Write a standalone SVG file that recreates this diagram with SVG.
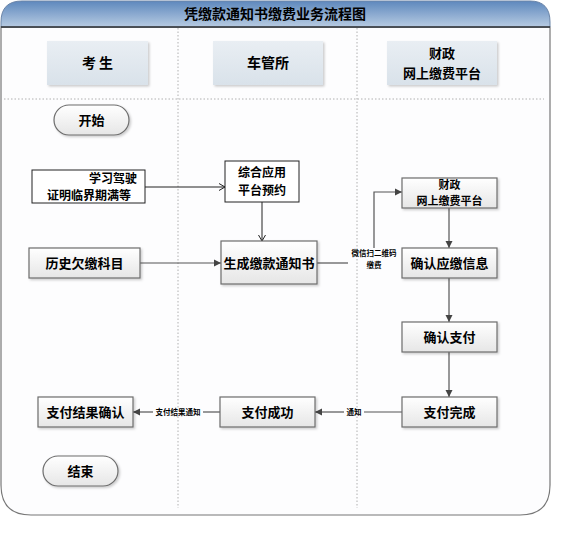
<svg xmlns="http://www.w3.org/2000/svg" width="577" height="534" viewBox="0 0 577 534">
<style>
.t{font-family:"Noto Sans CJK SC","Liberation Sans",sans-serif;font-weight:bold;fill:#000;text-anchor:middle}
.box{fill:url(#gBox);stroke:#6d6d6d;stroke-width:1.2}
.plain{fill:#fff;stroke:#222;stroke-width:1}
.lane{fill:url(#gLane)}
.pill{fill:url(#gBox);stroke:#6d6d6d;stroke-width:1.2}
.dot{stroke:#b0b0b0;stroke-width:1;stroke-dasharray:1.5 2;fill:none}
.c{stroke:#555;stroke-width:1.2;fill:none}
.cb{stroke:#222;stroke-width:1;fill:none}
.lbl{font-family:"Noto Sans CJK SC","Liberation Sans",sans-serif;font-weight:bold;font-size:7.5px;fill:#000;text-anchor:middle}
</style>
<defs>
<linearGradient id="gHead" x1="0" y1="0" x2="0" y2="1">
<stop offset="0" stop-color="#5e88bd"/>
<stop offset="1" stop-color="#b7cbe2"/>
</linearGradient>
<linearGradient id="gLane" x1="0" y1="0" x2="0" y2="1">
<stop offset="0" stop-color="#e9eef3"/>
<stop offset="1" stop-color="#d9e2ea"/>
</linearGradient>
<linearGradient id="gBox" x1="0" y1="0" x2="0" y2="1">
<stop offset="0" stop-color="#ffffff"/>
<stop offset="1" stop-color="#e6e6e6"/>
</linearGradient>
<filter id="sh" x="-10%" y="-10%" width="130%" height="140%">
<feDropShadow dx="1.5" dy="1.5" stdDeviation="1" flood-color="#000" flood-opacity="0.2"/>
</filter>
<marker id="af" markerWidth="8" markerHeight="8" refX="7" refY="4" orient="auto" markerUnits="userSpaceOnUse">
<path d="M0,0.5 L7,4 L0,7.5 Z" fill="#444"/>
</marker>
<marker id="ao" markerWidth="8" markerHeight="8" refX="7" refY="4" orient="auto" markerUnits="userSpaceOnUse">
<path d="M1,0.5 L7,4 L1,7.5" fill="none" stroke="#222" stroke-width="1"/>
</marker>
</defs>
<rect width="577" height="534" fill="#fff"/>
<g id="container">
<path d="M1,27 L1,485 Q1,515 31,515 L520,515 Q550,515 550,485 L550,27 Z" fill="#fdfdfe" stroke="#777" stroke-width="1.2"/>
<path d="M1,27 L1,22 Q1,1 22,1 L530,1 Q550,1 550,22 L550,27 Z" fill="url(#gHead)" stroke="#6b85a8" stroke-width="1"/>
<line x1="1" y1="27" x2="550" y2="27" stroke="#333" stroke-width="1.5"/>
<text class="t" x="275" y="19" font-size="14">凭缴款通知书缴费业务流程图</text>
<line class="dot" x1="178" y1="28" x2="178" y2="508"/>
<line class="dot" x1="357" y1="28" x2="357" y2="508"/>
<line class="dot" x1="4" y1="99" x2="544" y2="99"/>
</g>
<g id="lane1"><rect class="lane" x="47" y="41" width="101" height="44" filter="url(#sh)"/><text class="t" x="97.5" y="68" font-size="14">考 生</text></g>
<g id="lane2"><rect class="lane" x="213" y="41" width="110" height="44" filter="url(#sh)"/><text class="t" x="268" y="68" font-size="14">车管所</text></g>
<g id="lane3"><rect class="lane" x="387" y="41" width="110" height="44" filter="url(#sh)"/><text class="t" x="442" y="58" font-size="13">财政</text><text class="t" x="442" y="78" font-size="13">网上缴费平台</text></g>
<g id="connectors">
<line class="cb" x1="145" y1="187" x2="225" y2="187" marker-end="url(#ao)"/>
<line class="cb" x1="262" y1="202" x2="262" y2="241" marker-end="url(#ao)"/>
<line class="c" x1="140" y1="263" x2="221" y2="263" marker-end="url(#af)"/>
<polyline class="c" points="317,263 348,263"/>
<polyline class="c" points="374,248 374,192 402,192" marker-end="url(#af)"/>
<line class="c" x1="449" y1="208" x2="449" y2="248" marker-end="url(#af)"/>
<line class="c" x1="449" y1="278" x2="449" y2="322" marker-end="url(#af)"/>
<line class="c" x1="449" y1="352" x2="449" y2="397" marker-end="url(#af)"/>
<line class="c" x1="402" y1="412" x2="364" y2="412"/>
<line class="c" x1="344" y1="412" x2="315" y2="412" marker-end="url(#af)"/>
<line class="c" x1="220" y1="412" x2="203" y2="412"/>
<line class="c" x1="153" y1="412" x2="133" y2="412" marker-end="url(#af)"/>
<text class="lbl" x="374" y="256">微信扫二维码</text>
<text class="lbl" x="374" y="268">缴费</text>
<text class="lbl" x="354" y="415">通知</text>
<text class="lbl" x="178" y="415">支付结果通知</text>
</g>
<g id="start"><rect class="pill" x="54" y="105" width="75" height="30" rx="15" filter="url(#sh)"/><text class="t" x="91.5" y="125" font-size="13">开始</text></g>
<g id="learn"><rect class="plain" x="32" y="170" width="113" height="33"/><text class="t" x="113" y="183" font-size="12">学习驾驶</text><text class="t" x="89" y="200" font-size="12">证明临界期满等</text></g>
<g id="reserve"><rect class="plain" x="225" y="161" width="74" height="41"/><text class="t" x="262" y="177" font-size="12">综合应用</text><text class="t" x="262" y="195" font-size="12">平台预约</text></g>
<g id="history"><rect class="box" x="29" y="248" width="111" height="30" filter="url(#sh)"/><text class="t" x="84.5" y="268" font-size="13">历史欠缴科目</text></g>
<g id="gen"><rect class="box" x="221" y="241" width="96" height="43" filter="url(#sh)"/><text class="t" x="269" y="268" font-size="13">生成缴款通知书</text></g>
<g id="platform"><rect class="box" x="402" y="178" width="95" height="30" filter="url(#sh)"/><text class="t" x="449.5" y="189" font-size="11">财政</text><text class="t" x="449.5" y="205" font-size="11">网上缴费平台</text></g>
<g id="confirmInfo"><rect class="box" x="402" y="248" width="95" height="30" filter="url(#sh)"/><text class="t" x="449.5" y="268" font-size="13">确认应缴信息</text></g>
<g id="confirmPay"><rect class="box" x="402" y="322" width="95" height="30" filter="url(#sh)"/><text class="t" x="449.5" y="342" font-size="13">确认支付</text></g>
<g id="payDone"><rect class="box" x="402" y="397" width="95" height="30" filter="url(#sh)"/><text class="t" x="449.5" y="417" font-size="13">支付完成</text></g>
<g id="paySuccess"><rect class="box" x="220" y="397" width="95" height="30" filter="url(#sh)"/><text class="t" x="267.5" y="417" font-size="13">支付成功</text></g>
<g id="payResult"><rect class="box" x="38" y="397" width="95" height="30" filter="url(#sh)"/><text class="t" x="85.5" y="417" font-size="13">支付结果确认</text></g>
<g id="end"><rect class="pill" x="43" y="456" width="75" height="30" rx="15" filter="url(#sh)"/><text class="t" x="80.5" y="476" font-size="13">结束</text></g>
</svg>
